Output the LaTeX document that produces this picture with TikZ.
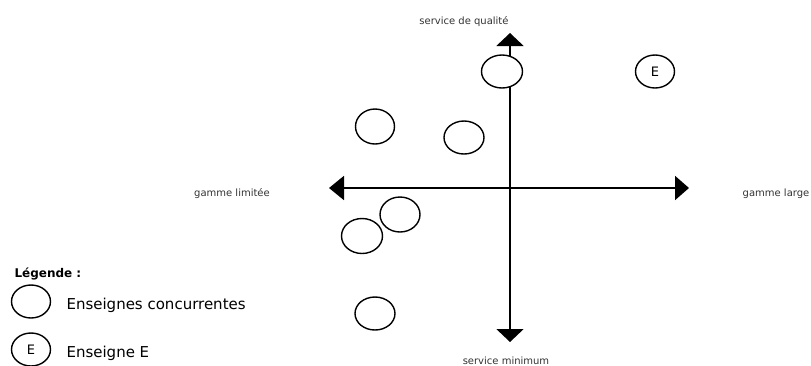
\documentclass[tikz,border=0pt]{standalone}
\usepackage{fontspec}
\setmainfont{DejaVu Sans}
\usetikzlibrary{arrows.meta,shapes.geometric}

\begin{document}
\begin{tikzpicture}[x=1pt, y=-1pt,
    firm/.style={draw, fill=white, ellipse, line width=1.4pt, inner sep=0pt,
        minimum width=39pt, minimum height=33pt, font=\fontsize{13}{13}\selectfont},
    axis/.style={line width=2pt},
    lbl/.style={font=\fontsize{10}{12}\selectfont, text=black!80, anchor=base},
    leg/.style={font=\fontsize{15}{16}\selectfont, anchor=base west}]
    \useasboundingbox (0,0) rectangle (811,365);

    % axes
    \coordinate (top) at (510,33);
    \coordinate (bot) at (510,342);
    \coordinate (left) at (329,188);
    \coordinate (right) at (689,188);
    \draw[axis, {Triangle[width=27pt,length=13pt]}-{Triangle[width=27pt,length=13pt]}] (bot) -- (top);
    \draw[axis, {Triangle[width=24pt,length=15pt]}-{Triangle[width=24pt,length=14pt]}] (left) -- (right);

    \node[lbl] at (464,24)(qual){service de qualit\'e};
    \node[lbl] at (506,364)(mini){service minimum};
    \node[lbl] at (232,196)(lim){gamme limit\'ee};
    \node[lbl] at (776,196)(large){gamme large};

    % enseignes
    \node[firm, minimum width=41pt] at (502,71.5)(c1){};
    \node[firm] at (655,71.5)(e){E};
    \node[firm, minimum height=35pt] at (375,126.5)(c2){};
    \node[firm, minimum width=40pt] at (464,137.5)(c3){};
    \node[firm, minimum width=40pt, minimum height=35pt] at (400,214.5)(c4){};
    \node[firm, minimum width=41pt, minimum height=35pt] at (362,236)(c5){};
    \node[firm, minimum width=40pt] at (375,313.5)(c6){};

    % legende
    \node[font=\bfseries\fontsize{12}{13}\selectfont, anchor=base west] at (11,277)(legtitle){L\'egende :};
    \node[firm] at (31,301.5)(legc){};
    \node[leg] at (63,309)(legctxt){Enseignes concurrentes};
    \node[firm] at (31,349.5)(lege){E};
    \node[leg] at (63,357)(legetxt){Enseigne E};
\end{tikzpicture}
\end{document}
